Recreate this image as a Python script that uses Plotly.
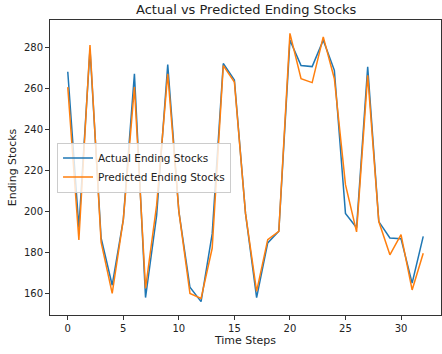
import plotly.graph_objects as go

time_steps = list(range(33))
actual = [268, 192, 279, 187, 164, 196, 267, 158, 198, 271.5, 200, 163, 156, 189, 272, 264,
          199, 158, 184.6, 190.3, 283.4, 271, 270.5, 283.4, 268.7, 199, 192, 270.4, 195, 187, 186.7, 165, 187.8]
predicted = [260.5, 186, 281, 185, 160, 196, 260.5, 162.5, 203, 267, 200, 160, 157.6, 182, 271, 263,
             199, 161, 186.2, 190.3, 286.7, 264.6, 262.7, 285, 264.6, 213, 190, 266.3, 195, 178.8, 188.7, 161.7, 179.6]

fig = go.Figure()
fig.add_trace(go.Scatter(x=time_steps, y=actual, mode="lines", name="Actual Ending Stocks",
                         line=dict(color="#1f77b4", width=1.5)))
fig.add_trace(go.Scatter(x=time_steps, y=predicted, mode="lines", name="Predicted Ending Stocks",
                         line=dict(color="#ff7f0e", width=1.5)))

axis_common = dict(showgrid=False, zeroline=False, showline=True, linecolor="#333", linewidth=1,
                   mirror=True, ticks="outside", ticklen=4, tickcolor="#333",
                   tickfont=dict(size=10, color="#222"))
fig.update_layout(
    width=442, height=354,
    margin=dict(l=50, r=1, t=20, b=39),
    paper_bgcolor="white", plot_bgcolor="white",
    font=dict(family="DejaVu Sans", size=10, color="#222"),
    title=dict(text="Actual vs Predicted Ending Stocks", x=0.557, xanchor="center",
               y=0.972, yanchor="middle", font=dict(size=13)),
    xaxis=dict(range=[-1.6, 33.6], tickvals=[0, 5, 10, 15, 20, 25, 30],
               title=dict(text="Time Steps", standoff=3, font=dict(size=11)), **axis_common),
    yaxis=dict(range=[149.5, 293.2], tickvals=[160, 180, 200, 220, 240, 260, 280],
               title=dict(text="Ending Stocks", standoff=5, font=dict(size=11)), **axis_common),
    legend=dict(x=0.018, y=0.5, xanchor="left", yanchor="middle",
                bgcolor="rgba(255,255,255,0.8)", bordercolor="#ccc", borderwidth=1,
                font=dict(size=10.5), tracegroupgap=0, itemwidth=30),
    showlegend=True,
)
fig.write_html("out.html")
